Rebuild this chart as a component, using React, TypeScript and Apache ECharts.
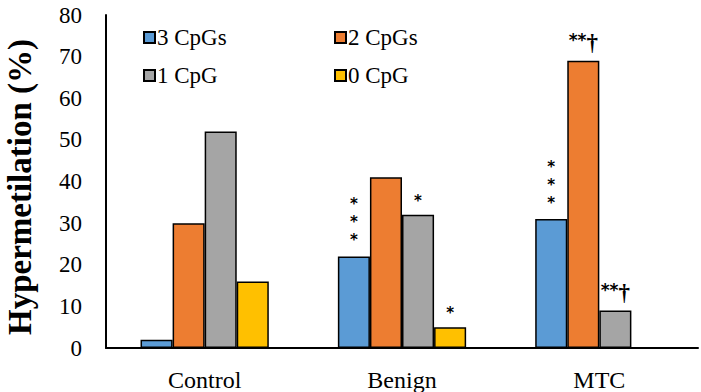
import React, { useEffect, useRef } from "react";
import * as echarts from "echarts";

const categories = ["Control", "Benign", "MTC"];
const seriesNames = ["3 CpGs", "2 CpGs", "1 CpG", "0 CpG"];
const colors = ["#5B9BD5", "#ED7D31", "#A5A5A5", "#FFC000"];
const cpg3 = [2, 22, 31];
const cpg2 = [30, 41, 69];
const cpg1 = [52, 32, 9];
const cpg0 = [16, 5, 0];
// significance marks per series per category ("" = none)
const marks3 = ["", "*\n*\n*", "*\n*\n*"];
const marks2 = ["", "", "**†"];
const marks1 = ["", "*", "**†"];
const marks0 = ["", "*", ""];
const yTicks = { min: 0, max: 80, interval: 10 };
const yTitle = "Hypermetilation (%)";

const FONT = "'Liberation Serif', 'Times New Roman', serif";
const SANS = "'DejaVu Sans', 'Liberation Sans', Arial, sans-serif";

export default function App() {
  const ref = useRef<HTMLDivElement>(null);
  useEffect(() => {
    document.body.style.margin = "0";
    const chart = echarts.init(ref.current!, null, { renderer: "svg" });
    const allValues = [cpg3, cpg2, cpg1, cpg0];
    const allMarks = [marks3, marks2, marks1, marks0];
    const series = seriesNames.map((name, i) => ({
      name,
      type: "bar",
      barGap: "0%",
      barCategoryGap: "35%",
      itemStyle: { color: colors[i], borderColor: "#000", borderWidth: 1.5 },
      data: allValues[i].map((v, j) => {
        const m = allMarks[i][j];
        if (!m) return v;
        const dagger = m.includes("†");
        const stacked = m.includes("\n");
        return {
          value: v,
          label: {
            show: true,
            position: "top",
            distance: dagger ? 7 : stacked ? 7 : 5,
            formatter: dagger ? "{a|**}{d|†}" : m,
            fontFamily: SANS,
            fontSize: 15,
            fontWeight: "bold",
            lineHeight: 18,
            color: "#000",
            rich: {
              a: { fontFamily: SANS, fontSize: 17, fontWeight: "bold", color: "#000", verticalAlign: "top", lineHeight: 22 },
              d: { fontFamily: FONT, fontSize: 23, color: "#000", lineHeight: 22 },
            },
          },
        };
      }),
    }));
    const legendPos = [
      { left: 143, top: 26 },
      { left: 334, top: 26 },
      { left: 143, top: 64 },
      { left: 334, top: 64 },
    ];
    const legends = seriesNames.map((name, i) => ({
      data: [name],
      left: legendPos[i].left,
      top: legendPos[i].top,
      padding: 0,
      itemWidth: 11,
      itemHeight: 11,
      itemGap: 0,
      icon: "rect",
      selectedMode: false,
      textStyle: { fontFamily: FONT, fontSize: 23, color: "#000", padding: [0, 0, 0, -3] },
    }));
    chart.setOption({
      animation: false,
      backgroundColor: "#fff",
      grid: { left: 106, right: 3, top: 15, bottom: 44, outerBoundsMode: "none", containLabel: false },
      legend: legends,
      graphic: [
        {
          type: "text",
          x: 20,
          y: 187,
          rotation: Math.PI / 2,
          style: {
            text: yTitle,
            fontFamily: FONT,
            fontSize: 33,
            fontWeight: "bold",
            fill: "#000",
            align: "center",
            verticalAlign: "middle",
          },
        },
      ],
      xAxis: {
        type: "category",
        data: categories,
        axisLine: { lineStyle: { color: "#000", width: 2 } },
        axisTick: { show: false },
        axisLabel: { fontFamily: FONT, fontSize: 24, color: "#000", margin: 20 },
      },
      yAxis: {
        type: "value",
        min: yTicks.min,
        max: yTicks.max,
        interval: yTicks.interval,
        axisLine: { show: true, lineStyle: { color: "#000", width: 2 } },
        axisTick: { show: false },
        splitLine: { show: false },
        axisLabel: { fontFamily: FONT, fontSize: 23, color: "#000", margin: 24 },
      },
      series,
    });
    return () => chart.dispose();
  }, []);
  return <div ref={ref} style={{ width: 701, height: 392 }} />;
}
